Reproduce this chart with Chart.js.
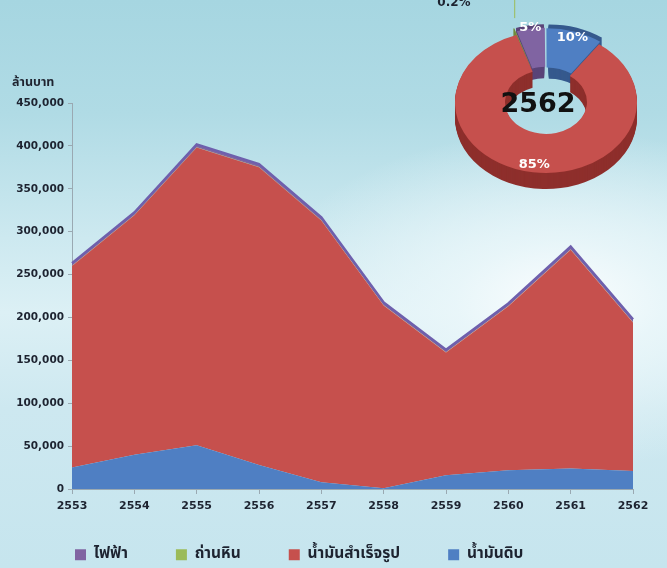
<!DOCTYPE html>
<html>
<head>
<meta charset="utf-8">
<script src="https://cdn.jsdelivr.net/npm/chart.js@4.4.1/dist/chart.umd.min.js"></script>
<style>
html,body{margin:0;padding:0;}
body{width:667px;height:568px;overflow:hidden;position:relative;
background:
 radial-gradient(ellipse 300px 170px at 560px 300px, rgba(250,253,254,1) 0%, rgba(235,247,250,0.85) 35%, rgba(215,238,244,0) 100%),
 linear-gradient(180deg,#a6d6e1 0%,#b0dbe5 20%,#cde9f0 42%,#dcf0f5 55%,#cde8f0 72%,#c6e5ee 100%);}
#main{position:absolute;left:0;top:0;}
#pie{position:absolute;left:421px;top:0;}
#unit{position:absolute;left:12px;top:73px;font:bold 12.5px 'Noto Sans Thai','Loma','Garuda','Tlwg Typo',sans-serif;color:#1f2430;}
</style>
</head>
<body>
<canvas id="main" width="667" height="568"></canvas>
<canvas id="pie" width="250" height="202"></canvas>
<div id="unit">ล้านบาท</div>
<script>
// ---- data ----
const years = ['2553','2554','2555','2556','2557','2558','2559','2560','2561','2562'];
const crudeOil    = [25000, 40000, 51000, 28000, 8000, 1000, 16000, 22000, 24000, 21000];
const refinedOil  = [235000, 279000, 347000, 347000, 305000, 213000, 143000, 191000, 255000, 173000];
const coal        = [300, 300, 300, 300, 300, 300, 300, 300, 300, 300];
const electricity = [3000, 3000, 3500, 3500, 3500, 3000, 3000, 3000, 3500, 3500];
const yTicks = [0, 50000, 100000, 150000, 200000, 250000, 300000, 350000, 400000, 450000];
const seriesNames = ['ไฟฟ้า', 'ถ่านหิน', 'น้ำมันสำเร็จรูป', 'น้ำมันดิบ'];
const pieYear = '2562';
const pieLabels = ['ถ่านหิน', 'ไฟฟ้า', 'น้ำมันดิบ', 'น้ำมันสำเร็จรูป'];
const pieShares = [0.2, 5, 10, 85];
const pieText = ['0.2%', '5%', '10%', '85%'];

const THAI = "'Noto Sans Thai','Loma','Garuda','Tlwg Typo','DejaVu Sans',sans-serif";
const C = {purple:'#8064a2', green:'#9bbb59', red:'#c6504d', blue:'#4f7fc3', line:'#6e60ad'};

const legendShift = {
  id: 'legendShift',
  afterLayout(chart) { chart.legend.left += 27; chart.legend.top -= 20; }
};

new Chart(document.getElementById('main'), {
  type: 'line',
  data: {
    labels: years,
    datasets: [
      {label: seriesNames[3], data: crudeOil, backgroundColor: C.blue, borderColor: C.blue, borderWidth: 0, fill: 'origin'},
      {label: seriesNames[2], data: refinedOil, backgroundColor: C.red, borderColor: C.red, borderWidth: 0, fill: '-1'},
      {label: seriesNames[1], data: coal, backgroundColor: C.green, borderColor: C.green, borderWidth: 0, fill: '-1'},
      {label: seriesNames[0], data: electricity, backgroundColor: C.purple, borderColor: C.line, borderWidth: 2.5, fill: '-1'}
    ]
  },
  options: {
    responsive: false, animation: false, devicePixelRatio: 1,
    elements: {point: {radius: 0}, line: {tension: 0}},
    layout: {padding: {left: 0, top: 103, right: 34, bottom: 0}},
    plugins: {
      tooltip: {enabled: false},
      legend: {
        position: 'bottom', align: 'start', reverse: true, maxHeight: 49,
        labels: {boxWidth: 11, boxHeight: 11, padding: 48, color: '#1d2330',
          font: {family: THAI, size: 15.5, weight: 'bold'},
          generateLabels(chart) {
            return Chart.defaults.plugins.legend.labels.generateLabels(chart).map(l => {
              l.fillStyle = chart.data.datasets[l.datasetIndex].backgroundColor; l.lineWidth = 0; return l; });
          }
        }
      }
    },
    scales: {
      x: {
        grid: {display: true, drawOnChartArea: false, tickLength: 5, color: '#9aa9b2'},
        border: {display: true, color: '#9aa9b2'},
        ticks: {color: '#1d2330', font: {family: "'DejaVu Sans'", size: 11, weight: 'bold'}, padding: 6, maxRotation: 0},
        afterFit(s) { s.height = 30; }
      },
      y: {
        stacked: true, min: 0, max: 450000,
        afterBuildTicks(s) { s.ticks = yTicks.map(v => ({value: v})); },
        grid: {display: true, drawOnChartArea: false, tickLength: 4, color: '#9aa9b2'},
        border: {display: true, color: '#9aa9b2'},
        ticks: {color: '#1d2330', font: {family: "'DejaVu Sans'", size: 10.5, weight: 'bold'}, padding: 4,
          callback: v => v.toLocaleString('en-US')},
        afterFit(s) { s.width = 72; }
      }
    }
  },
  plugins: [legendShift]
});

// ---- 3D-looking doughnut ----
const K = 0.78, DEPTH = 16;
const dark = ['#6f8a3c', '#5a4478', '#35598d', '#8e2f2c'];
const pie3d = {
  id: 'pie3d',
  beforeDatasetsDraw(chart) {
    const ctx = chart.ctx, arcs = chart.getDatasetMeta(0).data;
    const cx = arcs[0].x, cy = arcs[0].y;
    ctx.save();
    ctx.translate(cx, cy); ctx.scale(1, K); ctx.translate(-cx, -cy);
    for (let d = DEPTH; d >= 1; d -= 1) {
      arcs.forEach((a, i) => {
        const p = a.getProps(['x','y','startAngle','endAngle','innerRadius','outerRadius']);
        const off = a.options.offset || 0, mid = (p.startAngle + p.endAngle) / 2;
        const x = p.x + Math.cos(mid) * off, y = p.y + Math.sin(mid) * off + d / K;
        ctx.beginPath();
        ctx.arc(x, y, p.outerRadius, p.startAngle, p.endAngle);
        ctx.arc(x, y, p.innerRadius, p.endAngle, p.startAngle, true);
        ctx.closePath();
        ctx.fillStyle = dark[i]; ctx.fill();
      });
    }
  },
  afterDatasetsDraw(chart) {
    chart.ctx.restore();
    const ctx = chart.ctx, arcs = chart.getDatasetMeta(0).data;
    const cx = arcs[0].x, cy = arcs[0].y;
    const rf = [1.25, 0.92, 0.72, 0.8];
    ctx.save();
    ctx.textAlign = 'center'; ctx.textBaseline = 'middle';
    arcs.forEach((a, i) => {
      const p = a.getProps(['x','y','startAngle','endAngle','innerRadius','outerRadius']);
      const off = a.options.offset || 0, mid = (p.startAngle + p.endAngle) / 2;
      const r = p.innerRadius + (p.outerRadius - p.innerRadius) * rf[i] + off;
      let x = cx + Math.cos(mid) * r, y = cy + Math.sin(mid) * r * K;
      if (i === 0) {
        ctx.strokeStyle = '#9bbb59'; ctx.lineWidth = 1;
        ctx.beginPath(); ctx.moveTo(x + 5, y); ctx.lineTo(x + 5, 0); ctx.stroke();
        x = 33; y = 3; ctx.fillStyle = '#1d2330';
        ctx.font = "bold 12px 'DejaVu Sans'";
      } else {
        ctx.fillStyle = '#ffffff';
        ctx.font = "bold 13px 'DejaVu Sans'";
      }
      ctx.fillText(pieText[i], x, y);
    });
    ctx.fillStyle = '#111111';
    ctx.font = "bold 27px 'DejaVu Sans'";
    ctx.fillText(pieYear, cx - 8, cy + 3);
    ctx.restore();
  }
};

new Chart(document.getElementById('pie'), {
  type: 'doughnut',
  data: {labels: pieLabels, datasets: [{data: pieShares,
    backgroundColor: ['#9bbb59', '#8064a2', '#4f7fc3', '#c6504d'],
    offset: [10, 10, 10, 0], borderWidth: 0, clip: false}]},
  options: {
    responsive: false, animation: false, devicePixelRatio: 1,
    rotation: -19, cutout: '45%',
    layout: {padding: {left: 5, right: 5, top: 6, bottom: 4}},
    plugins: {legend: {display: false}, tooltip: {enabled: false}}
  },
  plugins: [pie3d]
});
</script>
</body>
</html>
